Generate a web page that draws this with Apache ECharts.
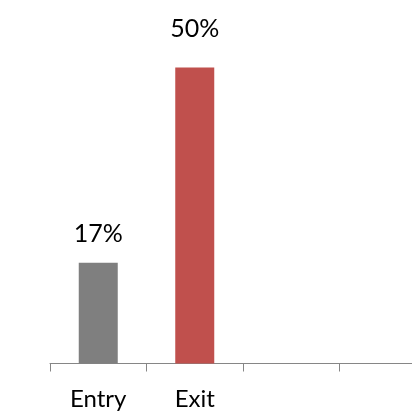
<!DOCTYPE html>
<html>
<head>
<meta charset="utf-8">
<script src="https://cdn.jsdelivr.net/npm/echarts@6/dist/echarts.min.js"></script>
<style>
html,body{margin:0;padding:0;background:#fff;overflow:hidden;width:412px;height:416px;}
#c{width:436px;height:416px;}
</style>
</head>
<body>
<div id="c"></div>
<script>
const categories = ['Entry', 'Exit', '', ''];
const values = [0.17, 0.50, null, null];
const barColors = ['#7f7f7f', '#c0504d'];
const labelGaps = [16, 26];

const chart = echarts.init(document.getElementById('c'), null, {renderer: 'canvas'});
const font = 'Lato, "Open Sans", sans-serif';
chart.setOption({
  animation: false,
  grid: {left: 50, right: 0, top: 8.3, height: 355.2, containLabel: false},
  xAxis: {
    type: 'category',
    data: categories,
    axisLine: {lineStyle: {color: '#868686', width: 1}},
    axisTick: {show: true, length: 8, lineStyle: {color: '#868686'}},
    axisLabel: {color: '#000', fontFamily: font, fontSize: 24, margin: 24, interval: 0}
  },
  yAxis: {type: 'value', min: 0, max: 0.6, show: false, splitLine: {show: false}},
  series: [{
    type: 'bar',
    barWidth: 39,
    data: values.map((v, i) => v == null ? null : {
      value: v,
      itemStyle: {color: barColors[i]},
      label: {distance: labelGaps[i]}
    }),
    label: {
      show: true,
      position: 'top',
      color: '#000',
      fontFamily: font,
      fontSize: 25,
      formatter: p => Math.round(p.value * 100) + '%'
    }
  }]
});
</script>
</body>
</html>
